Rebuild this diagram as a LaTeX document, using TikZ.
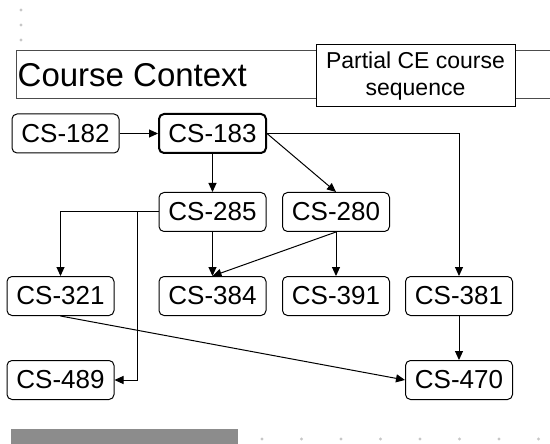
\documentclass[tikz,border=0pt]{standalone}
\usepackage{fontspec}
\setmainfont{Liberation Sans}
\usetikzlibrary{arrows.meta}
\begin{document}
\begin{tikzpicture}[x=1pt,y=-1pt,
  cs/.style={draw, line width=1pt, rounded corners=5pt, minimum width=107pt, minimum height=39pt, inner sep=0pt, font=\fontsize{26}{30}\selectfont},
  arr/.style={line width=1pt, -{Triangle[length=9pt,width=8pt]}},
  dot/.style={fill=black!22, draw=none}
]
\useasboundingbox (0,0) rectangle (550,444);
% decorative dots
\foreach \yy in {10,25,40} \fill[dot] (21,\yy) circle (1.7pt);
\foreach \k in {0,...,7} \fill[dot] (262+39.5*\k,439) circle (1.7pt);
\fill[black!45] (11,429) rectangle (238,444);
% title band
\draw[black!70, line width=1pt] (550,51) -- (16,51) -- (16,99) -- (550,99);
\node[anchor=base west, inner sep=0pt, font=\fontsize{33}{38}\selectfont] (title) at (17.5,86.5) {Course Context};
\node[draw, fill=white, line width=1pt, minimum width=199pt, minimum height=62pt, inner sep=0pt, align=center, font=\fontsize{23}{27}\selectfont] (partial) at (415.5,76) {Partial CE course\\sequence};
% course nodes
\node[cs] (c182) at (65.5,133.5) {CS-182};
\node[cs, line width=2pt] (c183) at (212.5,133.5) {CS-183};
\node[cs] (c285) at (212.5,212) {CS-285};
\node[cs] (c280) at (336,212) {CS-280};
\node[cs] (c321) at (60.5,296) {CS-321};
\node[cs] (c384) at (212.5,296) {CS-384};
\node[cs] (c391) at (336,296) {CS-391};
\node[cs] (c381) at (459,296) {CS-381};
\node[cs] (c489) at (60.5,380) {CS-489};
\node[cs] (c470) at (459,380) {CS-470};
\coordinate (j) at (137,212);
% connectors
\draw[arr] (c182) -- (c183);
\draw[arr] (c183) -- (c285);
\draw[arr] (c183.east) -- (c280.north);
\draw[arr] (c183.east) -| (c381.north);
\draw[arr] (c285.west) -| (c321.north);
\draw[arr] (c285.west) -- (j) |- (c489.east);
\draw[arr] (c285) -- (c384);
\draw[arr] (c280.south) -- (c384.north);
\draw[arr] (c280) -- (c391);
\draw[arr] (c381) -- (c470);
\draw[arr] (c321.south) -- (c470.west);
\end{tikzpicture}
\end{document}
